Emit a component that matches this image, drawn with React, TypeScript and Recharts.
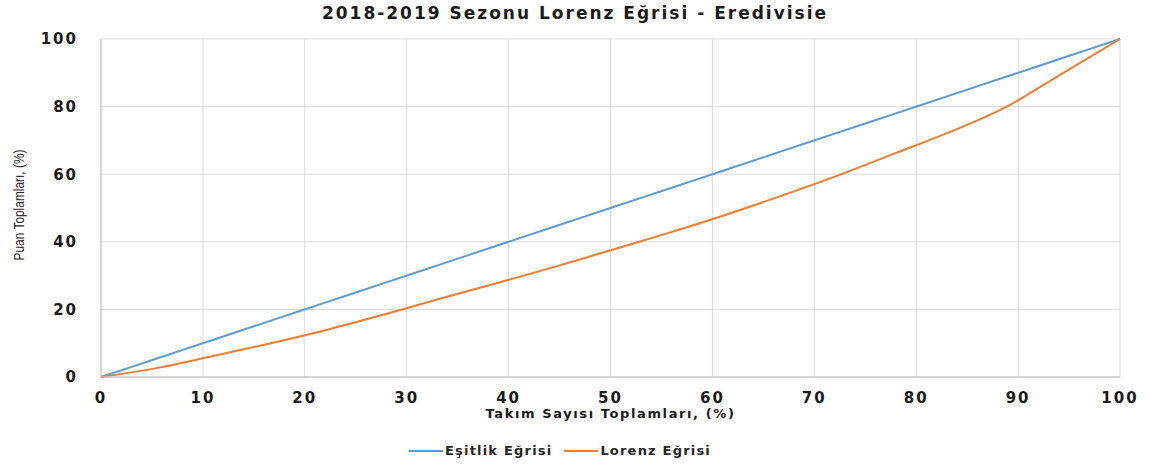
import React from "react";
import { LineChart, Line, XAxis, YAxis, CartesianGrid, Legend } from "recharts";

const teamShare = [0, 5.56, 11.11, 16.67, 22.22, 27.78, 33.33, 38.89, 44.44, 50, 55.56, 61.11, 66.67, 72.22, 77.78, 83.33, 88.89, 94.44, 100];
const equality = [0, 5.56, 11.11, 16.67, 22.22, 27.78, 33.33, 38.89, 44.44, 50, 55.56, 61.11, 66.67, 72.22, 77.78, 83.33, 88.89, 94.44, 100];
const lorenz = [0, 2.7, 6.3, 10.0, 14.0, 18.5, 23.2, 27.8, 32.5, 37.5, 42.5, 47.8, 53.5, 59.5, 66.0, 72.5, 80.0, 90.0, 100];
const xTicks = [0, 10, 20, 30, 40, 50, 60, 70, 80, 90, 100];
const yTicks = [0, 20, 40, 60, 80, 100];

const data = teamShare.map((x, i) => ({ x, eq: equality[i], lz: lorenz[i] }));

const tickStyle = { fontFamily: "DejaVu Sans", fontWeight: 700, fontSize: 15, letterSpacing: 2, fill: "#1a1a1a" };

const LegendContent = () => (
  <div style={{ display: "flex", justifyContent: "center", alignItems: "center", marginTop: 6, fontFamily: "DejaVu Sans", fontWeight: 700, fontSize: 13, letterSpacing: 1.2, color: "#262626" }}>
    <span style={{ display: "inline-block", width: 34, height: 2, background: "#5b9bd5", marginRight: 2 }} />
    <span style={{ marginRight: 12 }}>Eşitlik Eğrisi</span>
    <span style={{ display: "inline-block", width: 34, height: 2, background: "#ed7d31", marginRight: 2 }} />
    <span>Lorenz Eğrisi</span>
  </div>
);

export default function App() {
  return (
    <div style={{ position: "absolute", left: 0, top: 0, width: 1150, height: 469, background: "#fff" }}>
      <div style={{ position: "absolute", top: 3, left: 0, width: 1150, textAlign: "center", fontFamily: "DejaVu Sans", fontWeight: 700, fontSize: 17, letterSpacing: 2, color: "#1a1a1a" }}>
        2018-2019 Sezonu Lorenz Eğrisi - Eredivisie
      </div>
      <div style={{ position: "absolute", left: 19, top: 205, transform: "translate(-50%, -50%) rotate(-90deg) scaleX(0.85)", fontFamily: "Liberation Sans", fontSize: 14, color: "#262626", whiteSpace: "nowrap" }}>
        Puan Toplamları, (%)
      </div>
      <LineChart width={1150} height={469} data={data} margin={{ top: 39, right: 30, bottom: 0, left: 0 }}>
        <CartesianGrid stroke="#d9d9d9" strokeWidth={1} />
        <XAxis
          dataKey="x"
          type="number"
          domain={[0, 100]}
          ticks={xTicks}
          tickLine={false}
          tickSize={0}
          tickMargin={15}
          height={60}
          stroke="#bfbfbf"
          tick={tickStyle}
          interval={0}
          label={{ value: "Takım Sayısı Toplamları, (%)", position: "insideBottom", offset: 19, style: { fontFamily: "DejaVu Sans", fontWeight: 700, fontSize: 13, letterSpacing: 1.6, fill: "#1a1a1a" } }}
        />
        <YAxis
          type="number"
          domain={[0, 100]}
          ticks={yTicks}
          tickLine={false}
          tickSize={0}
          tickMargin={23}
          width={101}
          stroke="#bfbfbf"
          tick={tickStyle}
          interval={0}
        />
        <Legend verticalAlign="bottom" height={32} content={<LegendContent />} />
        <Line type="monotone" dataKey="eq" stroke="#5b9bd5" strokeWidth={2} dot={false} isAnimationActive={false} />
        <Line type="monotone" dataKey="lz" stroke="#ed7d31" strokeWidth={2} dot={false} isAnimationActive={false} />
      </LineChart>
    </div>
  );
}
